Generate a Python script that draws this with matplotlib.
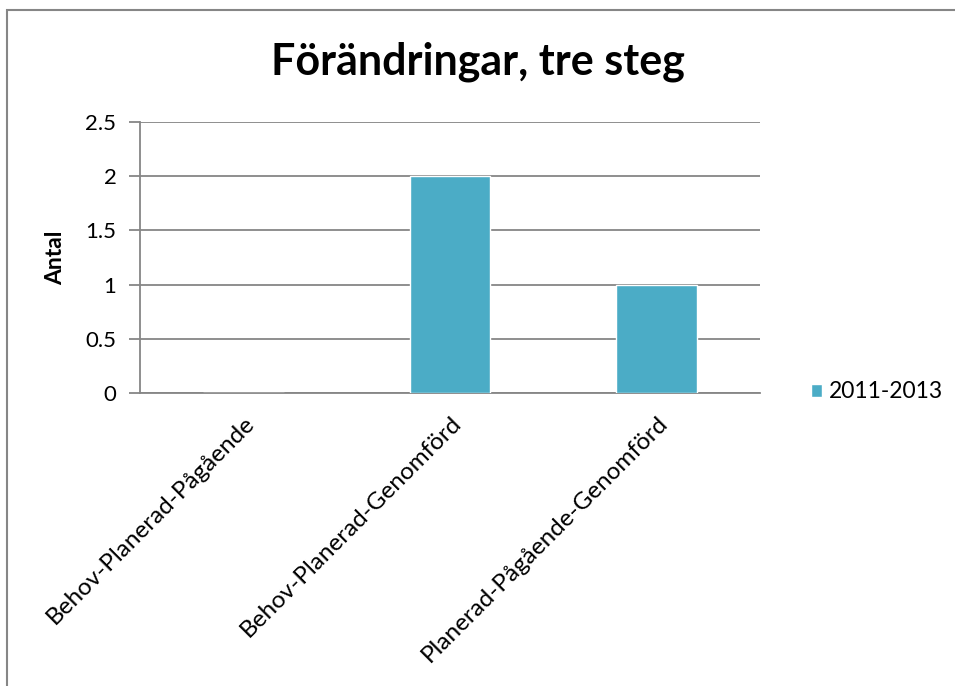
"""Förändringar, tre steg - stapeldiagram."""
import matplotlib.pyplot as plt
from matplotlib.patches import Rectangle

CATEGORIES = ["Behov-Planerad-Pågående", "Behov-Planerad-Genomförd",
              "Planerad-Pågående-Genomförd"]
VALUES = [0, 2, 1]
SERIES = "2011-2013"
YTICKS = [0, 0.5, 1, 1.5, 2, 2.5]


def main():
    plt.rcParams['font.family'] = ['Lato', 'DejaVu Sans']
    fig = plt.figure(figsize=(9.55, 6.86), dpi=100)
    ax = fig.add_axes([140 / 955, 1 - 393 / 686, 620 / 955, 271 / 686])

    # outer chart frame
    fig.patches.append(Rectangle((7 / 955, -0.1), 1.2, 1 - 10 / 686 + 0.1,
                                 transform=fig.transFigure, fill=False,
                                 edgecolor='#868686', lw=1.5))

    x = range(len(CATEGORIES))
    ax.bar(x, VALUES, width=0.39, color='#4BACC6', edgecolor='white',
           lw=1, label=SERIES, zorder=3)
    ax.set_xlim(-0.5, len(CATEGORIES) - 0.5)
    ax.set_ylim(0, 2.5)
    ax.set_yticks(YTICKS)
    ax.set_yticklabels(['0', '0.5', '1', '1.5', '2', '2.5'])
    ax.yaxis.grid(True, color='#868686', lw=1.3)
    ax.set_axisbelow(True)
    for s in ['top', 'right']:
        ax.spines[s].set_visible(False)
    ax.spines['left'].set_color('#868686')
    ax.spines['bottom'].set_color('#868686')
    ax.spines['left'].set_linewidth(1.3)
    ax.spines['bottom'].set_linewidth(1.3)
    ax.tick_params(axis='y', length=8, color='#868686', width=1.3,
                   labelsize=16, pad=9)
    ax.tick_params(axis='x', length=0, labelsize=17.5, pad=14)
    ax.set_xticks(list(x))
    ax.set_xticklabels(CATEGORIES, rotation=45, ha='right',
                       rotation_mode='anchor')

    ax.set_ylabel("Antal", fontsize=16.5, fontweight='bold', labelpad=14)
    fig.text(0.5, 1 - 62 / 686, "Förändringar, tre steg", ha='center',
             va='center', fontsize=31, fontweight='bold')
    fig.legend(loc='center left', bbox_to_anchor=(790 / 955, 1 - 392 / 686),
               frameon=False, fontsize=16.5, handlelength=0.5,
               handleheight=0.5, handletextpad=0.3)

    fig.savefig('out.png', dpi=100)


if __name__ == '__main__':
    main()
